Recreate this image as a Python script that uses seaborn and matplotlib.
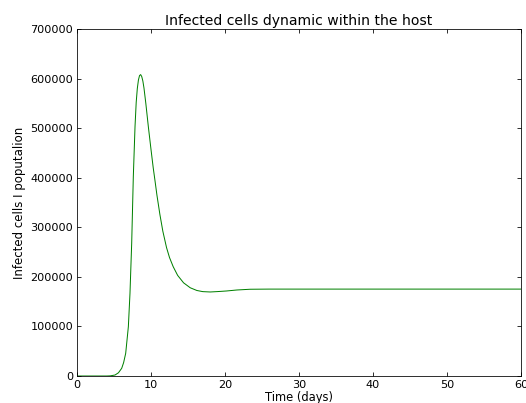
import matplotlib
matplotlib.use("Agg")
import matplotlib.pyplot as plt
import seaborn as sns
import pandas as pd

# time (days) and infected cells
time_days = [0, 2, 4, 4.5, 5.14, 5.6, 6.04, 6.3, 6.58, 6.94, 7.16, 7.39, 7.61, 7.84,
             8.0, 8.15, 8.3, 8.45, 8.6, 8.75, 8.9, 9.05, 9.3, 9.64, 10.0, 10.3, 10.54,
             10.8, 11.2, 11.6, 12.1, 12.5, 13.0, 13.6, 14.4, 15.3, 16.2, 17.0, 18.0,
             19.0, 20.2, 21.6, 23.4, 26, 30, 40, 50, 60]
infected = [0, 0, 0, 300, 2000, 6500, 15500, 27000, 45800, 99500, 166800, 267700,
            402000, 503000, 552000, 580000, 597000, 606000, 608000, 604000, 595000,
            581000, 550000, 503000, 457000, 420000, 394000, 365000, 326000, 292000,
            259000, 239000, 220500, 203000, 188000, 178000, 172500, 170200, 169500,
            170300, 171500, 173500, 175000, 175300, 175300, 175300, 175300, 175300]

df = pd.DataFrame({"t": time_days, "cells": infected})

plt.rcParams.update({
    "font.family": "DejaVu Sans",
    "font.size": 12,
    "xtick.direction": "in",
    "ytick.direction": "in",
    "xtick.top": True,
    "ytick.right": True,
    "xtick.major.size": 4,
    "ytick.major.size": 4,
    "xtick.major.pad": 4,
    "ytick.major.pad": 4,
})

fig = plt.figure(figsize=(526 / 72, 403 / 72), dpi=72)
ax = fig.add_axes([77 / 526, 27 / 403, 444 / 526, 347 / 403])
sns.lineplot(data=df, x="t", y="cells", color="#008000", linewidth=1, ax=ax)

ax.set_xlim(0, 60)
ax.set_ylim(0, 700000)
ax.set_xticks(range(0, 61, 10))
ax.set_yticks(range(0, 700001, 100000))
ax.ticklabel_format(style="plain", axis="y")
ax.tick_params(labelsize=11.3)
ax.set_title("Infected cells dynamic within the host", fontsize=14, pad=4)
ax.set_xlabel("Time (days)", fontsize=11.5, labelpad=1)
ax.set_ylabel("Infected cells I poputalion", fontsize=11.8, labelpad=4.5)

fig.savefig("out.png", dpi=72)
